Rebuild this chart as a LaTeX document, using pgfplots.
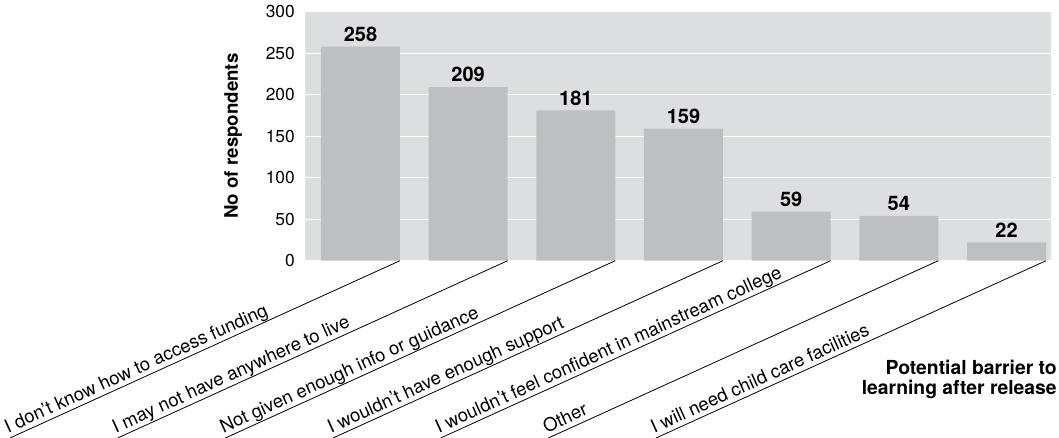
\documentclass[border=0pt]{standalone}
\usepackage{pgfplots}
\pgfplotsset{compat=1.18}
\usepackage{fontspec}
\setmainfont{TeX Gyre Heros}
\definecolor{bgc}{RGB}{221,222,224}
\definecolor{barc}{RGB}{190,191,193}
\newcommand\barlabel[2]{%
  \draw[line width=0.6pt] ([shift={(29.625pt,0pt)}]axis cs:#1,0) -- ++(-292.5pt,-132.975pt);
  \node[rotate=24.41, anchor=base west, inner sep=0pt, font=\fontsize{13.9}{15}\selectfont] at ([shift={(-264.375pt,-129.525pt)}]axis cs:#1,0) {#2};
}
\begin{document}
\begin{tikzpicture}
\begin{axis}[
  at={(228.75pt,132.975pt)}, anchor=south west,
  scale only axis, width=559.5pt, height=186.75pt,
  xmin=-0.515, xmax=6.413, ymin=0, ymax=300,
  ytick={0,50,...,300},
  xtick=\empty,
  axis line style={draw=none},
  major tick length=0pt,
  ymajorgrids, grid style={white, line width=1pt},
  axis background/.style={fill=bgc},
  /pgf/number format/assume math mode=true,
  yticklabel style={font=\fontsize{13}{14}\selectfont, inner sep=0pt, anchor=east, xshift=-7.5pt},
  ylabel={\bfseries No of respondents},
  ylabel style={font=\fontsize{14}{15}\selectfont, at={(axis description cs:-0.0965,0.5)}, anchor=center},
  clip=false,
]
\addplot[ybar, bar width=59.25pt, fill=barc, draw=none,
  nodes near coords,
  every node near coord/.append style={font=\fontsize{15}{16}\selectfont\bfseries, anchor=south, inner sep=0pt, yshift=3.75pt}]
  coordinates {(0,258) (1,209) (2,181) (3,159) (4,59) (5,54) (6,22)};
\barlabel{0}{I don’t know how to access funding}
\barlabel{1}{I may not have anywhere to live}
\barlabel{2}{Not given enough info or guidance}
\barlabel{3}{I wouldn’t have enough support}
\barlabel{4}{I wouldn’t feel confident in mainstream college}
\barlabel{5}{Other}
\barlabel{6}{I will need child care facilities}
\end{axis}
\node[anchor=base east, inner sep=0pt, font=\fontsize{14.5}{15}\selectfont\bfseries] at (792.75pt,47.25pt) {Potential barrier to};
\node[anchor=base east, inner sep=0pt, font=\fontsize{14.5}{15}\selectfont\bfseries] at (792.75pt,32.25pt) {learning after release};
\pgfresetboundingbox
\path (0,0) rectangle (794.25pt,328.5pt);
\end{tikzpicture}
\end{document}
